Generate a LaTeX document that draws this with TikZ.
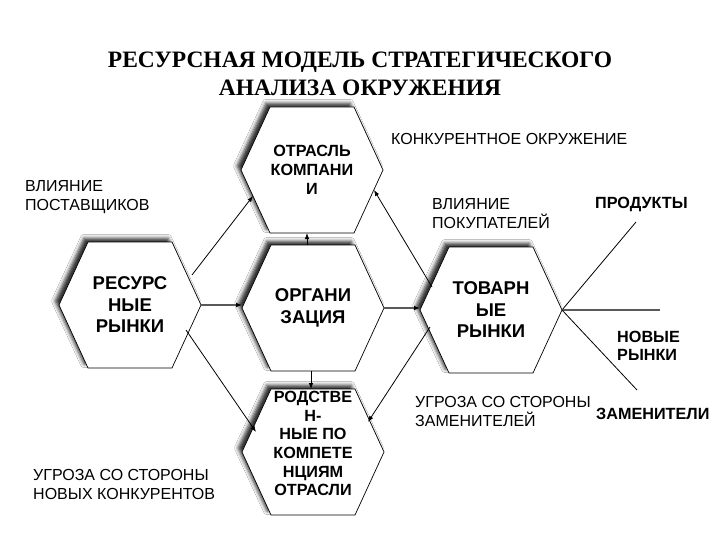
\documentclass[tikz,border=0pt]{standalone}
\usepackage{fontspec}
\setmainfont{Liberation Serif}
\setsansfont{Liberation Sans}
\usetikzlibrary{arrows.meta,calc,shadows.blur}
\tikzset{
  hexshape/.style={draw=black,line width=0.7pt,fill=white,
    blur shadow={shadow xshift=-4pt,shadow yshift=4pt,shadow blur radius=3.5pt,shadow opacity=80}},
  pics/hexa/.style={code={\path[hexshape] (-71,0) -- (-42,-63) -- (42,-63) -- (71,0) -- (42,63) -- (-42,63) -- cycle;}},
  hexnode/.style={minimum width=142pt,minimum height=126pt,inner sep=0pt,outer sep=0pt,align=center},
  bigtxt/.style={font=\sffamily\bfseries\fontsize{18.5}{21.5}\selectfont},
  smalltxt/.style={font=\sffamily\bfseries\fontsize{16.2}{18.7}\selectfont},
  lbl/.style={anchor=west,align=left,inner sep=0pt,font=\sffamily\fontsize{16}{19}\selectfont},
  blbl/.style={anchor=west,align=left,inner sep=0pt,font=\sffamily\bfseries\fontsize{16.2}{18.5}\selectfont},
  conn/.style={line width=0.8pt,-{Latex[length=6pt,width=4.5pt]}},
  hconn/.style={line width=1.6pt,draw=black!65,-{Latex[length=6pt,width=5pt,fill=black,color=black]}},
  plain/.style={line width=0.8pt}
}
\begin{document}
\begin{tikzpicture}[x=1pt,y=-1pt]
\useasboundingbox[fill=white] (0,0) rectangle (720,540);
% title
\node[font=\rmfamily\bfseries\fontsize{23.5}{28}\selectfont,align=center,inner sep=0pt] (title) at (360,74)
  {РЕСУРСНАЯ МОДЕЛЬ СТРАТЕГИЧЕСКОГО\\АНАЛИЗА ОКРУЖЕНИЯ};
% hexagons
\foreach \p in {(130,305),(312,170),(313,308),(313,452),(491,310)} \pic at \p {hexa};
\node[hexnode,bigtxt] (res) at (130,305) {РЕСУРС\\НЫЕ\\РЫНКИ};
\node[hexnode,smalltxt] (otr) at (312,170) {ОТРАСЛЬ\\КОМПАНИ\\И};
\node[hexnode,bigtxt] (org) at (313,308) {ОРГАНИ\\ЗАЦИЯ};
\node[hexnode,smalltxt,text depth=17pt] (rod) at (313,452) {РОДСТВЕ\\Н-\\НЫЕ ПО\\КОМПЕТЕ\\НЦИЯМ\\ОТРАСЛИ};
\node[hexnode,bigtxt] (tov) at (491,310) {ТОВАРН\\ЫЕ\\РЫНКИ};
% labels
\node[lbl] (konk) at (391,139) {КОНКУРЕНТНОЕ ОКРУЖЕНИЕ};
\node[lbl] (postav) at (25,197) {ВЛИЯНИЕ\\ПОСТАВЩИКОВ};
\node[lbl] (pokup) at (432,214) {ВЛИЯНИЕ\\ПОКУПАТЕЛЕЙ};
\node[lbl] (ugrz) at (415,411) {УГРОЗА СО СТОРОНЫ\\ЗАМЕНИТЕЛЕЙ};
\node[lbl] (ugrn) at (33,484) {УГРОЗА СО СТОРОНЫ\\НОВЫХ КОНКУРЕНТОВ};
\node[blbl] (prod) at (595,204) {ПРОДУКТЫ};
\node[blbl] (nov) at (617,346) {НОВЫЕ\\РЫНКИ};
\node[blbl] (zam) at (596,414) {ЗАМЕНИТЕЛИ};
% connectors
\draw[conn] ($(res.center)+(62,-30)$) -- ($(otr.center)+(-59,26)$);
\draw[hconn] (res.east) -- (res.east -| org.west);
\draw[conn] ($(res.center)+(56,25)$) -- ($(rod.center)+(-57,-20)$);
\draw[conn] ([xshift=-6pt]org.north) -- ([xshift=-6pt]org.north |- otr.south);
\draw[conn] ([xshift=-2pt]org.south) -- ([xshift=-2pt]org.south |- rod.north);
\draw[hconn] (org.east) -- (org.east -| tov.west);
\draw[conn] ($(tov.center)+(-59,-23)$) -- ($(otr.center)+(62,20)$);
\draw[conn] ($(tov.center)+(-61,17)$) -- ($(rod.center)+(55,-30)$);
\coordinate (p1) at (636,222);
\coordinate (p2) at (660,310);
\coordinate (p3) at (637,390);
\draw[plain] (tov.east) -- (p1);
\draw[line width=1.6pt,draw=black!65] (tov.east) -- (p2);
\draw[plain] (tov.east) -- (p3);
\end{tikzpicture}
\end{document}
